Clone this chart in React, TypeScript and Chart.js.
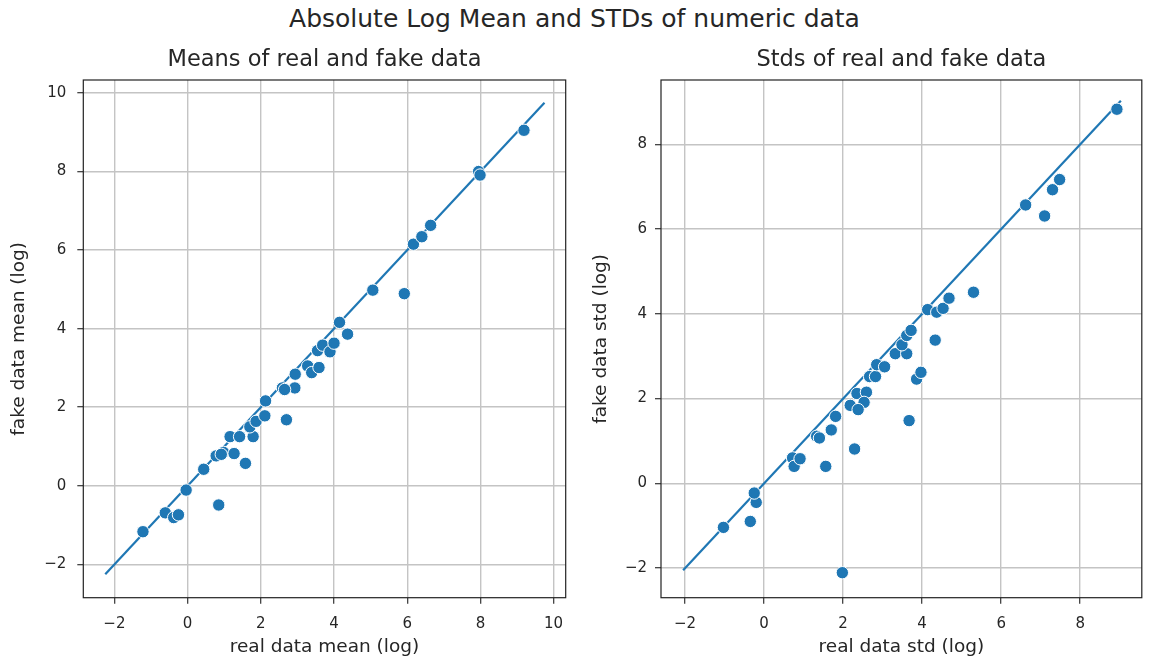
import React, { useEffect, useRef } from "react";
import { Chart, registerables } from "chart.js";

Chart.register(...registerables);

const suptitle = "Absolute Log Mean and STDs of numeric data";

// Left panel: means
const meanTitle = "Means of real and fake data";
const meanXLabel = "real data mean (log)";
const meanYLabel = "fake data mean (log)";
const meanReal = [-1.22, -0.61, -0.38, -0.25, -0.04, 0.44, 0.85, 0.78, 0.98, 0.92, 1.27, 1.16, 1.42, 1.58, 1.79, 1.70, 1.87, 2.11, 2.13, 2.70, 2.59, 2.93, 2.65, 2.94, 3.28, 3.39, 3.59, 3.55, 3.69, 3.89, 4.0, 4.37, 4.15, 5.06, 5.92, 6.17, 6.40, 6.64, 7.95, 7.99, 9.19];
const meanFake = [-1.17, -0.69, -0.81, -0.74, -0.11, 0.42, -0.49, 0.76, 0.85, 0.80, 0.82, 1.25, 1.25, 0.57, 1.25, 1.50, 1.64, 1.78, 2.16, 1.68, 2.49, 2.49, 2.45, 2.84, 3.05, 2.88, 3.01, 3.44, 3.58, 3.41, 3.63, 3.86, 4.16, 4.98, 4.89, 6.15, 6.34, 6.63, 8.0, 7.91, 9.05];
const meanLine = [-2.25, 9.75];
const meanXTicks = [-2, 0, 2, 4, 6, 8, 10];
const meanYTicks = [-2, 0, 2, 4, 6, 8, 10];
const meanRange = [-2.85, 10.33];

// Right panel: stds
const stdTitle = "Stds of real and fake data";
const stdXLabel = "real data std (log)";
const stdYLabel = "fake data std (log)";
const stdReal = [-1.03, -0.35, -0.20, -0.25, 1.98, 0.72, 0.76, 0.91, 1.56, 1.33, 1.40, 1.70, 1.81, 2.29, 2.18, 2.35, 2.59, 2.53, 2.38, 3.67, 2.67, 2.82, 2.85, 3.05, 3.86, 3.97, 3.32, 3.61, 3.49, 3.61, 3.72, 4.33, 4.14, 4.37, 4.53, 4.68, 5.30, 6.62, 7.10, 7.30, 7.48, 8.93];
const stdFake = [-1.04, -0.90, -0.45, -0.23, -2.11, 0.60, 0.40, 0.58, 0.40, 1.11, 1.07, 1.26, 1.58, 0.81, 1.84, 2.12, 2.15, 1.91, 1.74, 1.48, 2.52, 2.52, 2.80, 2.75, 2.46, 2.62, 3.06, 3.06, 3.27, 3.49, 3.61, 3.38, 4.10, 4.04, 4.13, 4.37, 4.51, 6.57, 6.31, 6.93, 7.17, 8.83];
const stdLine = [-2.05, 9.03];
const stdXTicks = [-2, 0, 2, 4, 6, 8];
const stdYTicks = [-2, 0, 2, 4, 6, 8];
const stdXRange = [-2.61, 9.56];
const stdYRange = [-2.70, 9.52];

const BLUE = "#1f77b4";
const FONT = "'DejaVu Sans', sans-serif";
const TEXT = "#262626";
const SUB_SIZE = 22.5;
const SUB_PAD = 6;

const fmt = (v: number) => (v < 0 ? "\u2212" + Math.abs(v) : String(v));

const boxPlugin = {
  id: "boxPlugin",
  afterDatasetsDraw(chart: any) {
    const { ctx, chartArea } = chart;
    ctx.save();
    ctx.strokeStyle = "#222";
    ctx.lineWidth = 1.2;
    ctx.strokeRect(chartArea.left, chartArea.top, chartArea.right - chartArea.left, chartArea.bottom - chartArea.top);
    ctx.restore();
  },
};

type PanelProps = {
  title: string;
  xLabel: string;
  yLabel: string;
  xs: number[];
  ys: number[];
  line: number[];
  xTicks: number[];
  yTicks: number[];
  xRange: number[];
  yRange: number[];
  yAxisWidth: number;
  xAxisHeight: number;
  padRight: number;
  yTitlePad: number;
  yTickPad: number;
  width: number;
  height: number;
  left: number;
  top: number;
};

function Panel(p: PanelProps) {
  const ref = useRef<HTMLCanvasElement>(null);
  useEffect(() => {
    if (!ref.current) return;
    const pts = p.xs.map((x, i) => ({ x, y: p.ys[i] }));
    const linePts = p.line.map((v) => ({ x: v, y: v }));
    const mkScale = (ticks: number[], range: number[], label: string, isY: boolean, size: number, titlePad: any, tickPad: number) => ({
      type: "linear",
      min: range[0],
      max: range[1],
      afterBuildTicks: (s: any) => {
        s.ticks = ticks.map((v) => ({ value: v }));
      },
      afterFit: (s: any) => {
        if (isY) s.width = size;
        else s.height = size;
      },
      border: { display: false },
      grid: {
        color: "#c4c4c4",
        lineWidth: 1.4,
        drawTicks: true,
        tickLength: 6,
        tickColor: "#333",
        tickWidth: 1.2,
      },
      ticks: {
        color: TEXT,
        font: { family: FONT, size: 15 },
        padding: tickPad,
        callback: (v: any) => fmt(Number(v)),
      },
      title: {
        display: true,
        text: label,
        color: TEXT,
        font: { family: FONT, size: 18.5 },
        padding: titlePad,
      },
    });
    const chart = new Chart(ref.current, {
      type: "scatter",
      data: {
        datasets: [
          {
            data: pts,
            backgroundColor: BLUE,
            borderColor: "#ffffff",
            borderWidth: 1,
            pointRadius: 6.2,
            order: 0,
          } as any,
          {
            type: "line",
            data: linePts,
            borderColor: BLUE,
            borderWidth: 2.2,
            pointRadius: 0,
            showLine: true,
            fill: false,
            order: 1,
          } as any,
        ],
      },
      options: {
        animation: false,
        responsive: false,
        layout: { padding: { left: 0, right: p.padRight, top: 0, bottom: 0 } },
        plugins: {
          legend: { display: false },
          tooltip: { enabled: false },
          title: {
            display: true,
            text: p.title,
            color: TEXT,
            fullSize: false,
            font: { family: FONT, size: SUB_SIZE, weight: "normal" },
            padding: { top: 0, bottom: SUB_PAD },
          },
        },
        scales: {
          x: mkScale(p.xTicks, p.xRange, p.xLabel, false, p.xAxisHeight, { top: 4, bottom: 0 }, 11),
          y: mkScale(p.yTicks, p.yRange, p.yLabel, true, p.yAxisWidth, { top: p.yTitlePad, bottom: 4 }, p.yTickPad),
        },
      } as any,
      plugins: [boxPlugin],
    });
    return () => chart.destroy();
  }, []);
  return (
    <canvas
      ref={ref}
      width={p.width}
      height={p.height}
      style={{ position: "absolute", left: p.left, top: p.top, width: p.width, height: p.height }}
    />
  );
}

export default function App() {
  const top = 80 - (SUB_SIZE * 1.2 + SUB_PAD);
  const h = 658 - top;
  return (
    <div style={{ position: "fixed", left: 0, top: 0, width: 1149, height: 658, background: "#fff", overflow: "hidden" }}>
      <div
        style={{
          position: "absolute",
          left: 0,
          top: 4,
          width: 1149,
          textAlign: "center",
          fontFamily: FONT,
          fontSize: 25,
          color: TEXT,
          lineHeight: "30px",
        }}
      >
        {suptitle}
      </div>
      <Panel
        title={meanTitle}
        xLabel={meanXLabel}
        yLabel={meanYLabel}
        xs={meanReal}
        ys={meanFake}
        line={meanLine}
        xTicks={meanXTicks}
        yTicks={meanYTicks}
        xRange={meanRange}
        yRange={meanRange}
        yAxisWidth={83.3}
        xAxisHeight={658 - 597.7}
        padRight={600 - 565.7}
        yTitlePad={8}
        yTickPad={11}
        width={600}
        height={h}
        left={0}
        top={top}
      />
      <Panel
        title={stdTitle}
        xLabel={stdXLabel}
        yLabel={stdYLabel}
        xs={stdReal}
        ys={stdFake}
        line={stdLine}
        xTicks={stdXTicks}
        yTicks={stdYTicks}
        xRange={stdXRange}
        yRange={stdYRange}
        yAxisWidth={71}
        xAxisHeight={658 - 597.7}
        padRight={1149 - 1142.7}
        yTitlePad={0}
        yTickPad={8}
        width={559}
        height={h}
        left={590}
        top={top}
      />
    </div>
  );
}
